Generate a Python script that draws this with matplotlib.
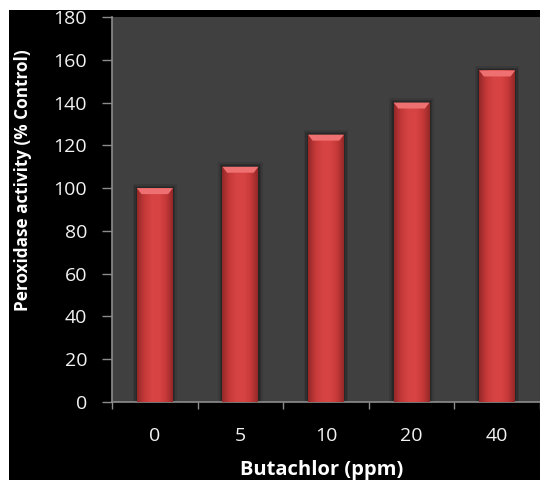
import matplotlib
matplotlib.use("Agg")
import matplotlib.pyplot as plt
import numpy as np
from matplotlib.patches import Rectangle, Polygon
from matplotlib.colors import LinearSegmentedColormap

categories = ["0", "5", "10", "20", "40"]
values = [100, 110, 125, 140, 155]
y_ticks = [0, 20, 40, 60, 80, 100, 120, 140, 160, 180]
x_label = "Butachlor (ppm)"
y_label = "Peroxidase activity (% Control)"

plt.rcParams['font.family'] = ['Open Sans', 'DejaVu Sans']

W, H = 540, 480
fig = plt.figure(figsize=(W / 100, H / 100), dpi=100)
fig.patch.set_facecolor("white")
fig.patches.append(Rectangle((9 / W, 0), 1 - 9 / W, (H - 10) / H,
                             transform=fig.transFigure, facecolor="black",
                             edgecolor="none", zorder=-10))

left, right, top, bottom = 112, 540, 17, 402
ax = fig.add_axes([left / W, (H - bottom) / H, (right - left) / W, (bottom - top) / H])
ax.set_facecolor("#404040")

cat_w = 88.5
x = np.arange(len(categories))

bw = 0.42
# soft shadow halo
for k, a in [(0.10, 0.10), (0.06, 0.14), (0.03, 0.18)]:
    ax.bar(x, [v + k * 20 for v in values], width=bw + k, color="black",
           alpha=a, edgecolor="none", zorder=1)
bars = ax.bar(x, values, width=bw, color="#cf3f3f", edgecolor="none", zorder=2)

cmap = LinearSegmentedColormap.from_list(
    "barg", ["#962828", "#c53939", "#d64343", "#d84444", "#c83a3a", "#962828"])
grad = np.linspace(0, 1, 64).reshape(1, -1)
for b, v in zip(bars, values):
    x0 = b.get_x()
    im = ax.imshow(grad, cmap=cmap, aspect="auto",
                   extent=(x0, x0 + bw, 0, v), zorder=3, interpolation="bilinear")
    im.set_clip_path(b)
    bev = 2.8
    inset = bw * 0.13
    poly = Polygon([(x0, v), (x0 + bw, v), (x0 + bw - inset, v - bev), (x0 + inset, v - bev)],
                   closed=True, facecolor="#ee7070", edgecolor="none", zorder=4)
    ax.add_patch(poly)

ax.set_xlim(-0.5, -0.5 + (right - left) / cat_w)
ax.set_ylim(0, 180)

ax.set_yticks(y_ticks)
ax.set_yticklabels([str(t) for t in y_ticks], color="#f2f2f2", fontsize=14)
ax.set_xticks(x)
ax.set_xticklabels(categories, color="#f2f2f2", fontsize=14)
ax.tick_params(axis="y", direction="out", length=7, color="#8c8c8c", width=1, pad=11)
ax.tick_params(axis="x", length=0, pad=18)
ax.set_xticks(np.arange(len(categories) + 1) - 0.5, minor=True)
ax.tick_params(axis="x", which="minor", direction="out", length=5, color="#8c8c8c", width=1)

for s in ["top", "right"]:
    ax.spines[s].set_visible(False)
for s in ["left", "bottom"]:
    ax.spines[s].set_color("#8c8c8c")
    ax.spines[s].set_linewidth(1.2)

fig.text(322 / W, 1 - 470 / H, x_label, ha="center", va="center",
         color="white", fontsize=14.5, fontweight="bold")
fig.text(23 / W, 1 - 180 / H, y_label, ha="center", va="center", rotation=90,
         color="white", fontsize=12.3, fontweight="bold")

fig.savefig("out.png", dpi=100, facecolor=fig.get_facecolor())
